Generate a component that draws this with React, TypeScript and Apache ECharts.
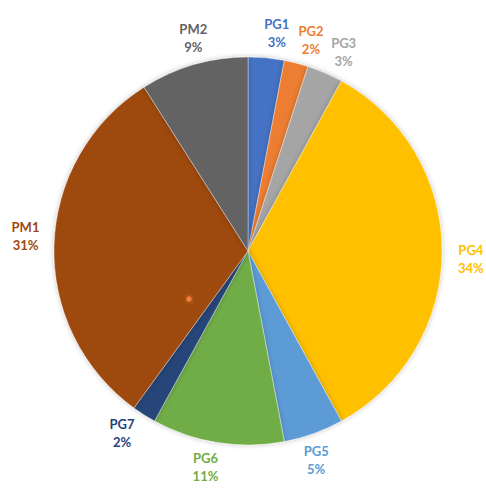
import React, { useEffect, useRef } from "react";
import * as echarts from "echarts";

const categories = ["PG1", "PG2", "PG3", "PG4", "PG5", "PG6", "PG7", "PM1", "PM2"];
const values = [3, 2, 3, 34, 5, 11, 2, 31, 9];
const colors = ["#4472C4", "#ED7D31", "#A5A5A5", "#FFC000", "#5B9BD5", "#70AD47", "#264478", "#9E480E", "#636363"];

const CX = 248;
const CY = 251;
const R = 194;
const LABEL_RX = 223;
const LABEL_RY = 220;
const LABEL_ROT = (2 * Math.PI) / 180;

export default function App() {
  const ref = useRef<HTMLDivElement>(null);
  useEffect(() => {
    if (!ref.current) return;
    const chart = echarts.init(ref.current, undefined, { renderer: "svg" });
    const total = values.reduce((a, b) => a + b, 0);
    const cum: number[] = [];
    let acc = 0;
    values.forEach((v) => {
      cum.push(acc);
      acc += v;
    });
    chart.setOption({
      animation: false,
      backgroundColor: "#ffffff",
      series: [
        {
          type: "pie",
          center: [CX, CY],
          radius: [0, R],
          startAngle: 90,
          clockwise: true,
          avoidLabelOverlap: false,
          itemStyle: {
            borderColor: "rgba(255,255,255,0.6)",
            borderWidth: 0.6,
            shadowBlur: 5,
            shadowColor: "rgba(0,0,0,0.25)",
          },
          label: {
            show: true,
            position: "outside",
            fontFamily: "Lato",
            fontWeight: "bold",
            fontSize: 13,
            lineHeight: 18,
            formatter: (p: any) => `${p.name}\n${Math.round(p.percent)}%`,
          },
          labelLine: { show: false },
          labelLayout: (params: any) => {
            const i = params.dataIndex;
            const theta = ((cum[i] + values[i] / 2) / total) * Math.PI * 2 + LABEL_ROT;
            const dx = Math.sin(theta);
            const dy = -Math.cos(theta);
            return {
              x: CX + dx * LABEL_RX,
              y: CY + dy * LABEL_RY,
              align: "center",
              verticalAlign: "middle",
            };
          },
          data: categories.map((name, i) => ({
            name,
            value: values[i],
            itemStyle: { color: colors[i] },
            label: { color: colors[i] },
          })),
        },
      ],
      graphic: [
        {
          type: "circle",
          shape: { cx: 189, cy: 299, r: 2.5 },
          style: { fill: "#F2843A", shadowBlur: 4, shadowColor: "rgba(255,150,60,0.8)" },
          z: 100,
        },
      ],
    });
    return () => chart.dispose();
  }, []);
  return (
    <div
      ref={ref}
      style={{ position: "fixed", left: 0, top: 0, width: 486, height: 488 }}
    />
  );
}
